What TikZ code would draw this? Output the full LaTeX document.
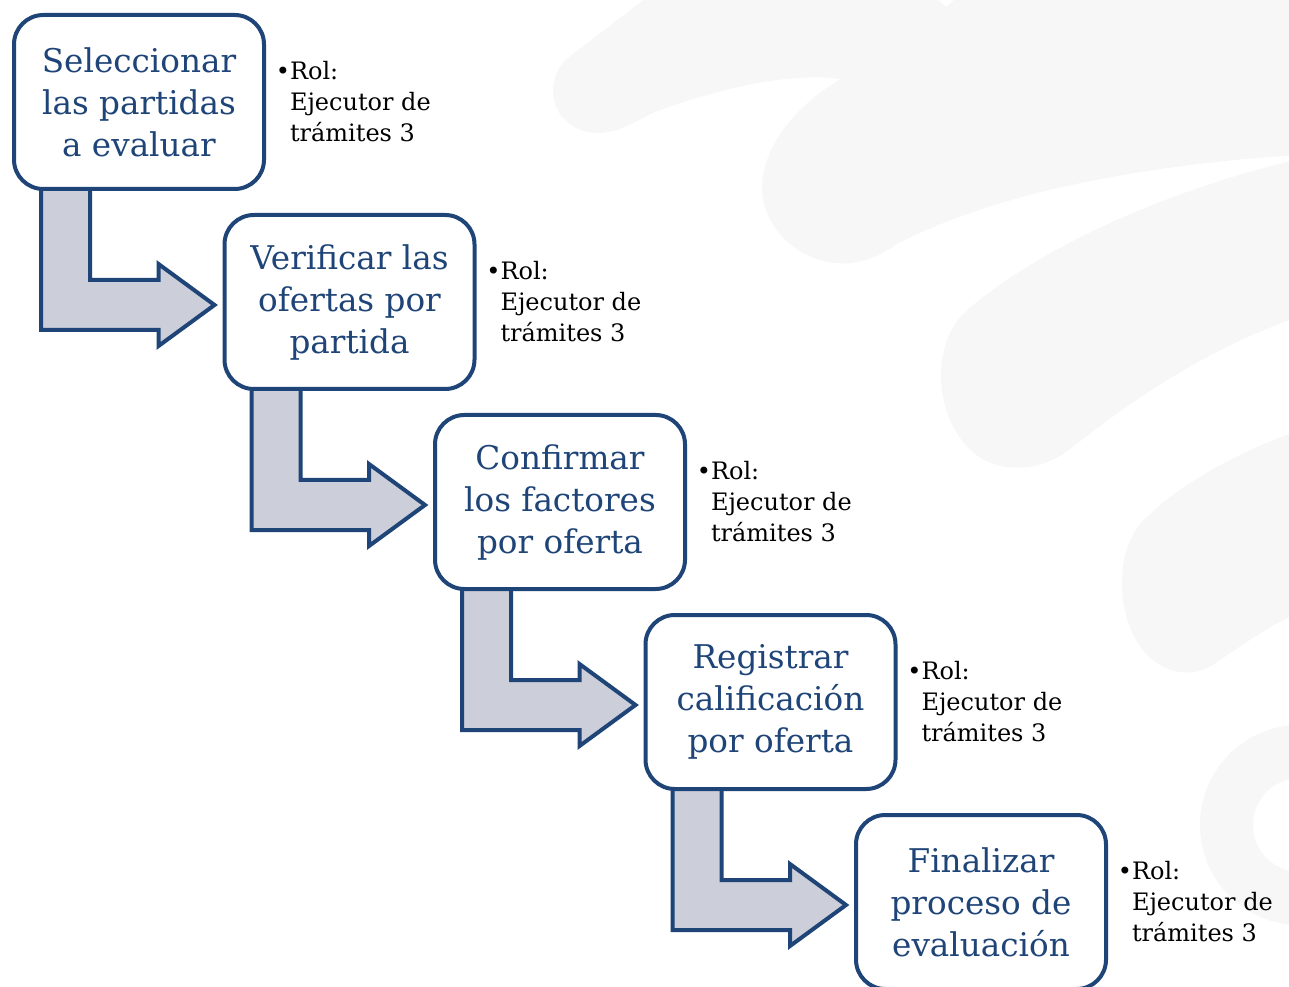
\documentclass[tikz,border=0pt]{standalone}
\usepackage{fontspec}
\setmainfont{DejaVu Serif}
\usetikzlibrary{calc}
\definecolor{navy}{RGB}{31,69,120}
\definecolor{arrowfill}{RGB}{204,207,217}
\definecolor{wm}{RGB}{247,247,247}
\pgfdeclarelayer{wmlayer}
\pgfdeclarelayer{arrowlayer}
\pgfsetlayers{wmlayer,arrowlayer,main}
\newcommand\bentarrow[2]{%
  \coordinate (A) at ($(#1.south west)+(27,-10)$);
  \coordinate (B) at ($(#1.south west)+(76,-10)$);
  \coordinate (T) at ($(#2.west)+(-10,3)$);
  \coordinate (H) at ($(#2.west)+(-66,3)$);
  \draw[bent] (A) -- (B) -- ($(B |- T)+(0,-25)$) -- ($(H)+(0,-25)$) -- ($(H)+(0,-41)$)
    -- (T) -- ($(H)+(0,41)$) -- ($(H)+(0,25)$) -- ($(A |- T)+(0,25)$) -- cycle;}
\begin{document}
\begin{tikzpicture}[x=0.75pt,y=-0.75pt,
  stepbox/.style={draw=navy, line width=3pt, rounded corners=22pt, fill=white,
    minimum width=187.5pt, minimum height=130.5pt, inner sep=0pt, outer sep=0pt,
    align=center, text=navy, font=\fontsize{24.5}{31.5}\selectfont},
  rolenote/.style={anchor=north west, inner sep=0pt, outer sep=0pt, align=left,
    font=\fontsize{18}{23.25}\selectfont},
  bent/.style={draw=navy, line width=3pt, fill=arrowfill, line join=miter},
  wmshape/.style={fill=wm, draw=none}]
\useasboundingbox (0,0) rectangle (1289,987);

% watermark
\begin{pgfonlayer}{wmlayer}
\fill[white] (0,0) rectangle (1289,987);
\begin{scope}
\clip (0,0) rectangle (1289,987);
\fill[wmshape] (650,-5) -- (568,58) .. controls (540,82) and (552,132) .. (598,133)
  .. controls (618,133) and (634,122) .. (655,112) .. controls (720,88) and (790,72) .. (841,79)
  .. controls (795,105) and (760,150) .. (762,192) .. controls (766,245) and (835,290) .. (895,245)
  .. controls (1000,190) and (1150,165) .. (1295,155) -- (1295,-5) -- (960,-5) -- (946,7) -- (932,-5) -- cycle;
\fill[wmshape] (1295,160) .. controls (1150,195) and (1030,255) .. (965,312)
  .. controls (928,348) and (935,425) .. (978,456) .. controls (1003,474) and (1042,470) .. (1066,452)
  .. controls (1130,402) and (1200,352) .. (1295,318) -- cycle;
\fill[wmshape] (1295,432) .. controls (1230,455) and (1172,490) .. (1142,522)
  .. controls (1110,556) and (1116,642) .. (1162,666) .. controls (1182,677) and (1202,673) .. (1217,662)
  .. controls (1242,645) and (1266,628) .. (1295,614) -- cycle;
\fill[wmshape, even odd rule] (1300,825) circle (100) (1300,825) circle (47);
\end{scope}
\end{pgfonlayer}

% steps
\node[stepbox] (b1) at (139,102) {Seleccionar\\las partidas\\a evaluar};
\node[stepbox] (b2) at (349.5,302) {Verificar las\\ofertas por\\partida};
\node[stepbox] (b3) at (560,502) {Confirmar\\los factores\\por oferta};
\node[stepbox] (b4) at (770.5,702) {Registrar\\calificación\\por oferta};
\node[stepbox] (b5) at (981,902) {Finalizar\\proceso de\\evaluación};

% role notes
\node[rolenote] (r1) at (290,61) {\llap{\textbullet}Rol:\\Ejecutor de\\trámites 3};
\node[rolenote] (r2) at (500.5,261) {\llap{\textbullet}Rol:\\Ejecutor de\\trámites 3};
\node[rolenote] (r3) at (711,461) {\llap{\textbullet}Rol:\\Ejecutor de\\trámites 3};
\node[rolenote] (r4) at (921.5,661) {\llap{\textbullet}Rol:\\Ejecutor de\\trámites 3};
\node[rolenote] (r5) at (1132,861) {\llap{\textbullet}Rol:\\Ejecutor de\\trámites 3};

% bent arrows
\begin{pgfonlayer}{arrowlayer}
\bentarrow{b1}{b2}
\bentarrow{b2}{b3}
\bentarrow{b3}{b4}
\bentarrow{b4}{b5}
\end{pgfonlayer}
\end{tikzpicture}
\end{document}
